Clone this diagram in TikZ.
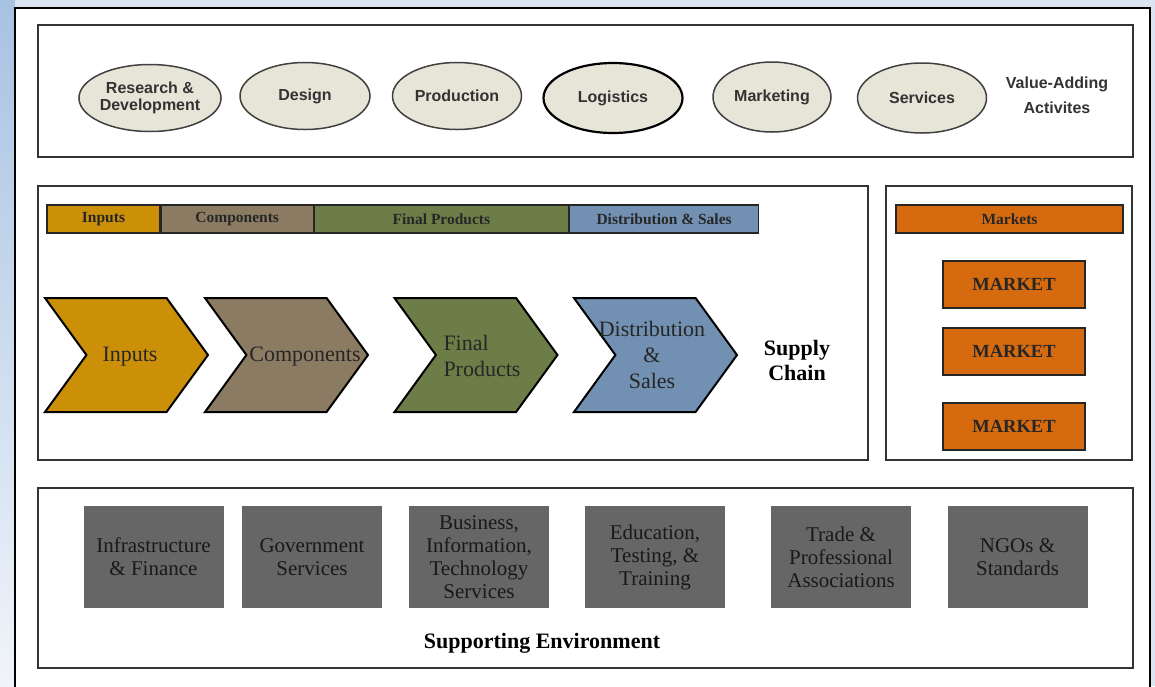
\documentclass[tikz,border=0pt]{standalone}
\usepackage{fontspec}
\setmainfont{Liberation Serif}
\setsansfont{Liberation Sans}
\usetikzlibrary{shapes.geometric, shapes.symbols, positioning}

\definecolor{bgblue}{RGB}{219,229,241}
\definecolor{edgeblue}{RGB}{168,194,226}
\definecolor{ovalfill}{RGB}{231,228,216}
\definecolor{inputcol}{RGB}{204,143,8}
\definecolor{compcol}{RGB}{139,123,98}
\definecolor{finalcol}{RGB}{108,125,72}
\definecolor{distcol}{RGB}{114,145,178}
\definecolor{marketcol}{RGB}{214,106,14}
\definecolor{supportcol}{RGB}{102,102,102}

\tikzstyle{panel} = [draw=black!80, line width=1.3pt, fill=white]
\tikzstyle{activity} = [ellipse, draw=black!75, line width=1.5pt, fill=ovalfill, minimum width=129pt, minimum height=67pt, inner sep=0pt, align=center, font=\sffamily\bfseries\fontsize{16}{17}\selectfont, text=black!80]
\tikzstyle{stage} = [rectangle, draw=black!85, line width=1.2pt, minimum height=28pt, inner sep=0pt, font=\bfseries\fontsize{15.5}{16}\selectfont, text=black!85]
\tikzstyle{chev} = [signal, signal from=west, signal to=east, signal pointer angle=108, draw=black, line width=2pt, minimum width=163pt, minimum height=114pt, inner sep=0pt]
\tikzstyle{chevtext} = [align=center, font=\fontsize{22}{26}\selectfont, text=black!85]
\tikzstyle{market} = [rectangle, draw=black!85, line width=1.2pt, fill=marketcol, minimum width=142pt, minimum height=47pt, font=\bfseries\fontsize{18.5}{20}\selectfont, text=black!85]
\tikzstyle{support} = [rectangle, fill=supportcol, minimum width=140pt, minimum height=102pt, inner sep=0pt, align=center, font=\fontsize{21}{23}\selectfont, text=black!90]
\tikzstyle{heading} = [align=center, font=\bfseries\fontsize{22}{25}\selectfont]

\begin{document}
\begin{tikzpicture}[x=1pt, y=-1pt]
    \clip (0,0) rectangle (1155,686);
    % background and page
    \fill[bgblue] (0,0) rectangle (1155,686);
    \shade[top color=edgeblue, bottom color=bgblue!40!white] (0,0) rectangle (15,686);
    \draw[fill=white, line width=2pt] (15,8) rectangle (1150,700);

    % value-adding activities
    \draw[panel] (38,25) rectangle (1133,157);
    \node (rd) [activity, minimum width=128pt] at (150,98) {Research \&\\Development};
    \node (design) [activity, minimum width=130pt] at (305,96) {Design};
    \node (prod) [activity] at (457,96) {Production};
    \node (logist) [activity, draw=black, line width=2.2pt, minimum width=139pt, minimum height=70pt] at (613,98) {Logistics};
    \node (mkting) [activity, minimum width=118pt, minimum height=70pt] at (772,97) {Marketing};
    \node (serv) [activity, minimum height=70pt] at (922,98) {Services};
    \node (valueadd) [font=\sffamily\bfseries\fontsize{16}{25}\selectfont, align=center, text=black!80] at (1057,95) {Value-Adding\\Activites};

    % supply chain
    \draw[panel] (38,186) rectangle (868,460);
    \node (barin) [stage, fill=inputcol, minimum width=113pt] at (103.5,219) {Inputs};
    \node (barcomp) [stage, fill=compcol, minimum width=152pt, right=0pt of barin] {Components};
    \node (barfinal) [stage, fill=finalcol, minimum width=254pt, right=0pt of barcomp] {Final Products};
    \node (bardist) [stage, fill=distcol, minimum width=189pt, right=0pt of barfinal] {Distribution \& Sales};

    \node (chin) [chev, fill=inputcol] at (126.5,355) {};
    \node (chcomp) [chev, fill=compcol] at (286.5,355) {};
    \node (chfinal) [chev, fill=finalcol] at (476,355) {};
    \node (chdist) [chev, fill=distcol] at (655.5,355) {};
    \node (txin) [chevtext] at (130,357) {Inputs};
    \node (txcomp) [chevtext] at (305,357) {Components};
    \node (txfinal) [chevtext, align=left] at (482,356) {Final\\Products};
    \node (txdist) [chevtext] at (652,355) {Distribution\\\&\\Sales};
    \node (supply) [heading] at (797,360) {Supply\\Chain};

    % markets
    \draw[panel] (886,186) rectangle (1132,460);
    \node (barmkt) [stage, fill=marketcol, minimum width=227pt] at (1009.5,219) {Markets};
    \node (mkt1) [market] at (1014,284.5) {MARKET};
    \node (mkt2) [market] at (1014,351.5) {MARKET};
    \node (mkt3) [market] at (1014,426.5) {MARKET};

    % supporting environment
    \draw[panel] (38,488) rectangle (1133,668);
    \node (infra) [support] at (153.5,557) {Infrastructure\\\& Finance};
    \node (gov) [support] at (312,557) {Government\\Services};
    \node (bus) [support] at (479,557) {Business,\\Information,\\Technology\\Services};
    \node (edu) [support] at (655,557) {Education,\\Testing, \&\\Training};
    \node (trade) [support] at (841,557) {Trade \&\\Professional\\Associations};
    \node (ngo) [support] at (1017.5,557) {NGOs \&\\Standards};
    \node (supenv) [heading] at (542,643) {Supporting Environment};
\end{tikzpicture}
\end{document}
